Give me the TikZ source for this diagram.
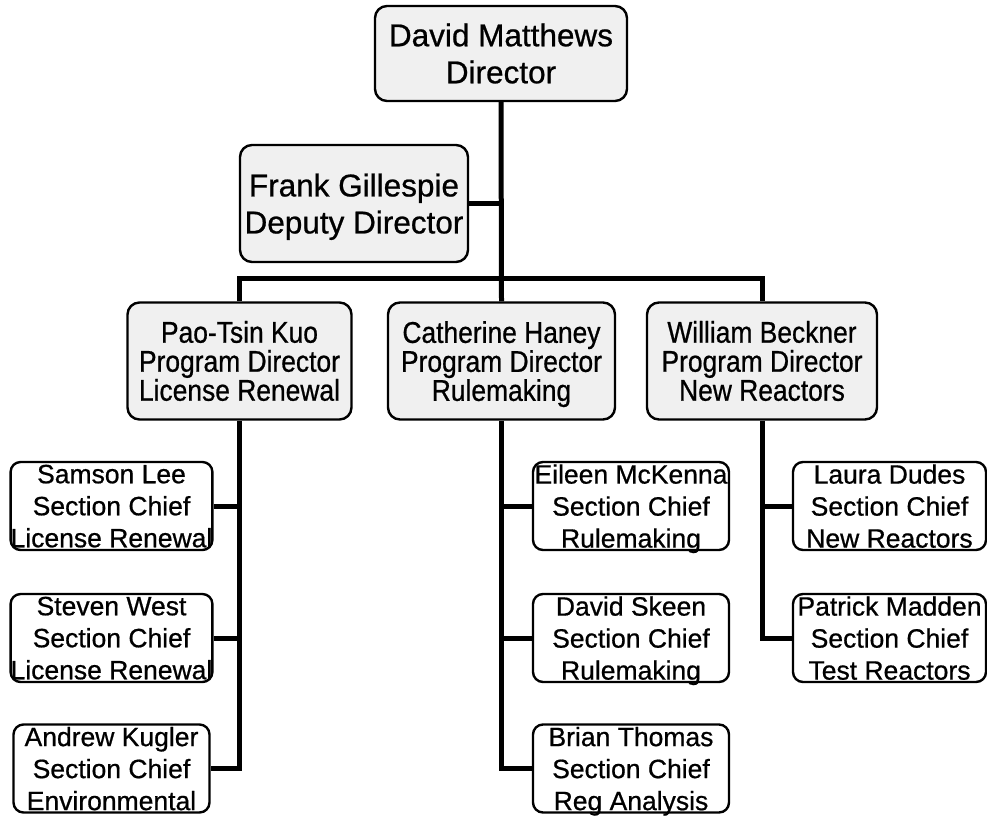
\documentclass[tikz,border=0pt]{standalone}
\usepackage{fontspec}
\setmainfont{Liberation Sans}[FakeBold=0.7]
\newfontfamily\progfont{Liberation Sans}[FakeBold=0.7,FakeStretch=0.88]
\newcommand\nodepth[1]{\raisebox{0pt}[\height][0pt]{#1}}

\begin{document}
\begin{tikzpicture}[x=1pt,y=-1pt,
    box/.style={draw,line width=2.4pt,rounded corners=12pt,inner sep=0pt,align=center},
    head/.style={box,fill=black!6,font=\fontsize{31.5}{37}\selectfont},
    prog/.style={box,fill=black!6,minimum width=224pt,minimum height=117pt,font=\progfont\fontsize{30}{29}\selectfont},
    chief/.style={box,fill=white,rounded corners=10pt,minimum width=196pt,minimum height=88pt,font=\fontsize{26.5}{32}\selectfont},
    link/.style={line width=5pt}]
    \useasboundingbox (0,0) rectangle (987,818);

    \node[head,minimum width=252pt,minimum height=95pt] (dm) at (501,53.5) {David Matthews\\Director};
    \node[head,minimum width=228pt,minimum height=117pt] (fg) at (354,203.5) {Frank Gillespie\\\nodepth{Deputy Director}};

    \node[prog] (ptk) at (239.5,361) {Pao-Tsin Kuo\\Program Director\\License Renewal};
    \node[prog,minimum width=227pt] (ch) at (501.5,361) {Catherine Haney\\Program Director\\\nodepth{Rulemaking}};
    \node[prog,minimum width=230pt] (wb) at (762,361) {William Beckner\\Program Director\\New Reactors};

    % section chiefs
    \foreach \nm/\x/\y/\who/\dept in {sl/111.5/506/Samson Lee/License Renewal,
        sw/111.5/638/Steven West/License Renewal,
        ak/111.5/768.5/Andrew Kugler/Environmental,
        em/631/506/Eileen McKenna/Rulemaking,
        ds/631/638/David Skeen/Rulemaking,
        bt/631/768.5/Brian Thomas/Reg Analysis,
        ld/889.5/506/Laura Dudes/New Reactors,
        pm/889.5/638/Patrick Madden/Test Reactors}
        \node[chief,minimum width=\ifdim\x pt>800pt 193pt\else 196pt\fi] (\nm) at (\x,\y) {\who\\Section Chief\\\nodepth{\dept}};

    \draw[link] (dm.south) -- (ch.north);
    \draw[link] (fg.east) -- (fg.east -| dm.south);
    \draw[link] (ptk.north) -- ++(0,-23) -| (wb.north);

    \draw[link] (ptk.south) |- (ak.east);
    \draw[link] (ch.south) |- (bt.west);
    \draw[link] (wb.south) |- (pm.west);
    \foreach \nm in {sl,sw}
        \draw[link] (\nm.east) -- (\nm.east -| ptk.south);
    \foreach \nm/\up in {em/ch,ds/ch,ld/wb}
        \draw[link] (\nm.west) -- (\nm.west -| \up.south);
\end{tikzpicture}
\end{document}
